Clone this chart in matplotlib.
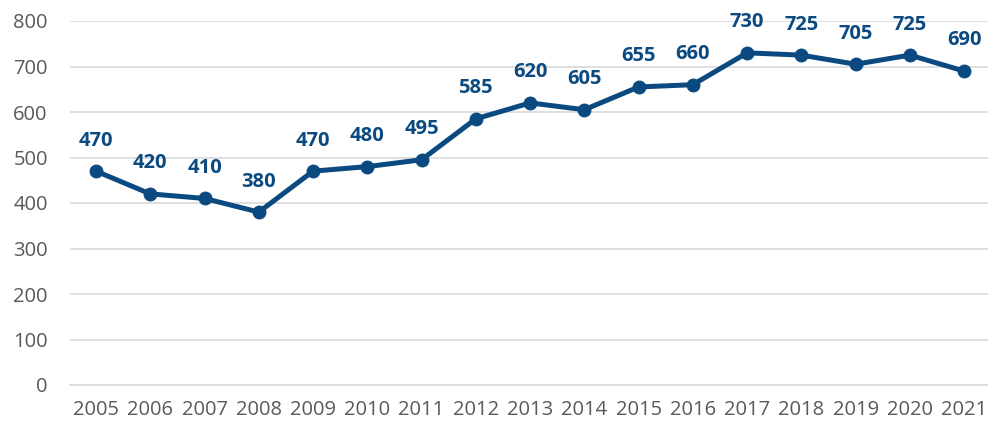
import matplotlib.pyplot as plt

# data
years = list(range(2005, 2022))
values = [470, 420, 410, 380, 470, 480, 495, 585, 620, 605, 655, 660, 730, 725, 705, 725, 690]
yticks = [0, 100, 200, 300, 400, 500, 600, 700, 800]

blue = "#0B4A80"
grey = "#595959"

plt.rcParams['font.family'] = ['Open Sans', 'DejaVu Sans']

fig = plt.figure(figsize=(9.88, 4.25), dpi=100)
ax = fig.add_axes([70 / 988, 1 - 385 / 425, 1 - 70 / 988, (385 - 21) / 425])

ax.plot(years, values, color=blue, lw=3.6, marker="o", ms=9, zorder=3)

# data labels above each point
for x, v in zip(years, values):
    ax.annotate(str(v), (x, v), xytext=(0, 22), textcoords="offset points",
                ha="center", va="center", fontsize=14.5, fontweight="bold", color=blue)

ax.set_ylim(0, 800)
ax.set_xlim(2004.52, 2021.44)
ax.set_yticks(yticks)
ax.set_xticks(years)
ax.set_xticklabels([str(y) for y in years])
ax.grid(axis="y", color="#D9D9D9", lw=1.2)
ax.set_axisbelow(True)
for s in ["top", "right", "left"]:
    ax.spines[s].set_visible(False)
ax.spines["bottom"].set_color("#D9D9D9")
ax.spines["bottom"].set_linewidth(1.2)
ax.tick_params(axis="both", length=0, labelsize=14.5, colors=grey)
ax.tick_params(axis="y", pad=16)
ax.tick_params(axis="x", pad=11)
ax.patch.set_alpha(0)

fig.savefig("out.png", dpi=100)
